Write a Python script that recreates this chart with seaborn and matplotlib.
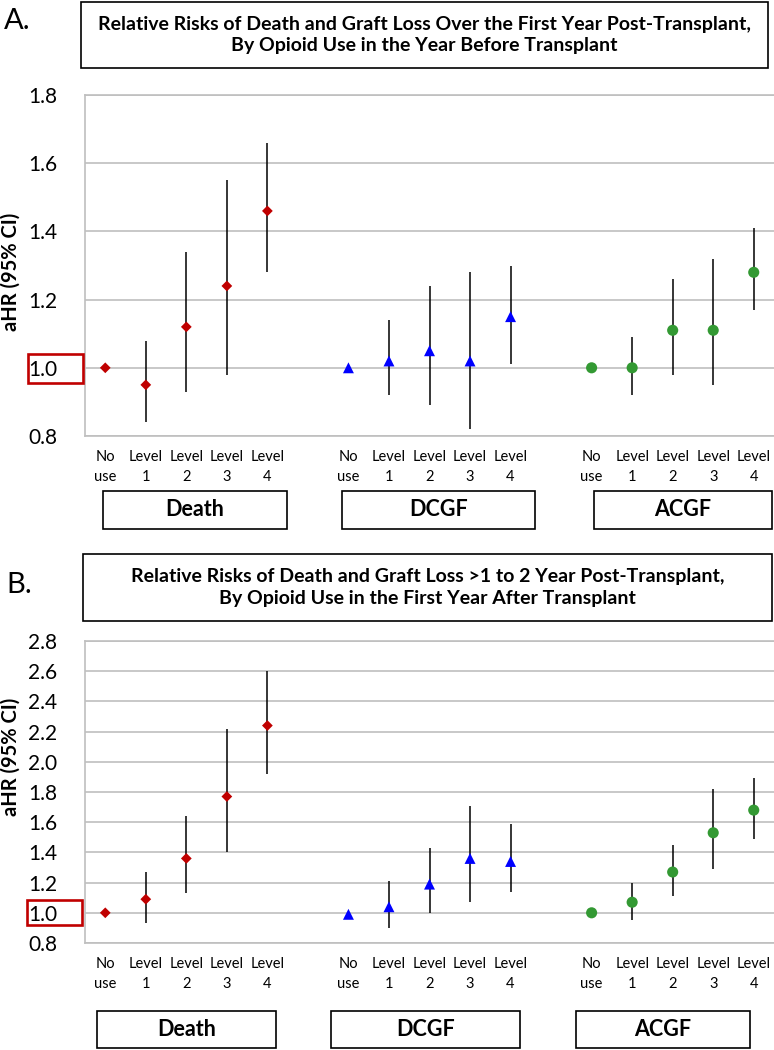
import pandas as pd
import matplotlib
matplotlib.use("Agg")
import matplotlib.pyplot as plt
from matplotlib.patches import Rectangle
import seaborn as sns

# categories
outcomes = ["Death", "DCGF", "ACGF"]
levels = ["No\nuse", "Level\n1", "Level\n2", "Level\n3", "Level\n4"]

# Panel A: first year post-transplant, by opioid use in year before
a_death_hr = [1.00, 0.95, 1.12, 1.24, 1.46]
a_death_lo = [1.00, 0.84, 0.93, 0.98, 1.28]
a_death_hi = [1.00, 1.08, 1.34, 1.55, 1.66]
a_dcgf_hr = [1.00, 1.02, 1.05, 1.02, 1.15]
a_dcgf_lo = [1.00, 0.92, 0.89, 0.82, 1.01]
a_dcgf_hi = [1.00, 1.14, 1.24, 1.28, 1.30]
a_acgf_hr = [1.00, 1.00, 1.11, 1.11, 1.28]
a_acgf_lo = [1.00, 0.92, 0.98, 0.95, 1.17]
a_acgf_hi = [1.00, 1.09, 1.26, 1.32, 1.41]

# Panel B: >1 to 2 years post-transplant, by opioid use in first year after
b_death_hr = [1.00, 1.09, 1.36, 1.77, 2.24]
b_death_lo = [1.00, 0.93, 1.13, 1.40, 1.92]
b_death_hi = [1.00, 1.27, 1.64, 2.22, 2.60]
b_dcgf_hr = [0.99, 1.04, 1.19, 1.36, 1.34]
b_dcgf_lo = [0.99, 0.90, 1.00, 1.07, 1.14]
b_dcgf_hi = [0.99, 1.21, 1.43, 1.71, 1.59]
b_acgf_hr = [1.00, 1.07, 1.27, 1.53, 1.68]
b_acgf_lo = [1.00, 0.95, 1.11, 1.29, 1.49]
b_acgf_hi = [1.00, 1.20, 1.45, 1.82, 1.89]

colors = {"Death": "#C00000", "DCGF": "#0000FF", "ACGF": "#339933"}
markers = {"Death": "D", "DCGF": "^", "ACGF": "o"}
msizes = {"Death": 30, "DCGF": 62, "ACGF": 64}


def build(series):
    rows = []
    for i, (name, hr, lo, hi) in enumerate(series):
        for j in range(len(levels)):
            rows.append({"outcome": name, "pos": i * 6 + j,
                         "hr": hr[j], "lo": lo[j], "hi": hi[j]})
    return pd.DataFrame(rows)


df_a = build([("Death", a_death_hr, a_death_lo, a_death_hi),
              ("DCGF", a_dcgf_hr, a_dcgf_lo, a_dcgf_hi),
              ("ACGF", a_acgf_hr, a_acgf_lo, a_acgf_hi)])
df_b = build([("Death", b_death_hr, b_death_lo, b_death_hi),
              ("DCGF", b_dcgf_hr, b_dcgf_lo, b_dcgf_hi),
              ("ACGF", b_acgf_hr, b_acgf_lo, b_acgf_hi)])

sns.set_style("white")
plt.rcParams["font.family"] = ["Lato", "DejaVu Sans"]
plt.rcParams["text.color"] = "black"
plt.rcParams["xtick.color"] = "black"
plt.rcParams["ytick.color"] = "black"

W, H = 774, 1050
fig = plt.figure(figsize=(W / 100, H / 100), dpi=100)


def rect(x0, y0, x1, y1):
    # pixel box (top-left origin) -> figure fraction
    return [x0 / W, 1 - y1 / H, (x1 - x0) / W, (y1 - y0) / H]


def boxed_text(x0, y0, x1, y1, text, size, lw=1.2, ec="black"):
    r = rect(x0, y0, x1, y1)
    fig.patches.append(Rectangle((r[0], r[1]), r[2], r[3], transform=fig.transFigure,
                                 fill=False, edgecolor=ec, linewidth=lw))
    if text:
        fig.text(r[0] + r[2] / 2, r[1] + r[3] / 2, text, ha="center", va="center",
                 fontsize=size, fontweight="bold", linespacing=1.35)


def panel(df, box, ymax, yticks):
    ax = fig.add_axes(rect(*box))
    ax.vlines(df["pos"], df["lo"], df["hi"], color="black", linewidth=1.1, zorder=2)
    sns.scatterplot(data=df, x="pos", y="hr", hue="outcome", style="outcome",
                    size="outcome", sizes=msizes, palette=colors, markers=markers,
                    linewidth=0, legend=False, ax=ax, zorder=3)
    ax.set_xlim(-0.5, 16.5)
    ax.set_ylim(0.8, ymax)
    ax.set_yticks(yticks)
    ax.set_yticklabels([f"{t:.1f}" for t in yticks], fontsize=15)
    ticks = [i * 6 + j for i in range(3) for j in range(5)]
    ax.set_xticks(ticks)
    ax.set_xticklabels(levels * 3, fontsize=10.5, linespacing=1.55)
    ax.tick_params(axis="both", length=0)
    ax.tick_params(axis="y", pad=20)
    ax.tick_params(axis="x", pad=10)
    ax.grid(axis="y", color="#BFBFBF", linewidth=1.2)
    ax.set_axisbelow(True)
    for s in ["left", "bottom", "top"]:
        ax.spines[s].set_color("#BFBFBF")
        ax.spines[s].set_linewidth(1.2)
    ax.spines["right"].set_visible(False)
    ax.set_xlabel("")
    ax.set_ylabel("")
    return ax


yt_a = [0.8, 1.0, 1.2, 1.4, 1.6, 1.8]
yt_b = [0.8, 1.0, 1.2, 1.4, 1.6, 1.8, 2.0, 2.2, 2.4, 2.6, 2.8]

panel(df_a, (85, 95, 774, 436), 1.8, yt_a)
panel(df_b, (85, 641, 774, 943), 2.8, yt_b)

# panel letters and titles
fig.text(4 / W, 1 - 21 / H, "A.", fontsize=21, va="center", ha="left")
fig.text(6 / W, 1 - 585 / H, "B.", fontsize=21, va="center", ha="left")
boxed_text(81, 2, 768, 68,
           "Relative Risks of Death and Graft Loss Over the First Year Post-Transplant,\n"
           "By Opioid Use in the Year Before Transplant", 14)
boxed_text(83, 554, 772, 621,
           "Relative Risks of Death and Graft Loss >1 to 2 Year Post-Transplant,\n"
           "By Opioid Use in the First Year After Transplant", 14)

# y axis labels
fig.text(11 / W, 1 - 272 / H, "aHR (95% CI)", rotation=90, fontsize=14.5,
         fontweight="bold", ha="center", va="center")
fig.text(11 / W, 1 - 757 / H, "aHR (95% CI)", rotation=90, fontsize=14.5,
         fontweight="bold", ha="center", va="center")

# highlight boxes around the 1.0 reference tick
boxed_text(28, 354, 83, 383, "", 0, lw=1.9, ec="#C00000")
boxed_text(27, 900, 82, 925, "", 0, lw=1.9, ec="#C00000")

# outcome boxes under each group
for name, x0, x1 in zip(outcomes, [103, 342, 594], [287, 535, 772]):
    boxed_text(x0, 491, x1, 529, name, 15.5)
for name, x0, x1 in zip(outcomes, [97, 331, 576], [276, 520, 750]):
    boxed_text(x0, 1011, x1, 1048, name, 15.5)

fig.savefig("out.png", dpi=100)
